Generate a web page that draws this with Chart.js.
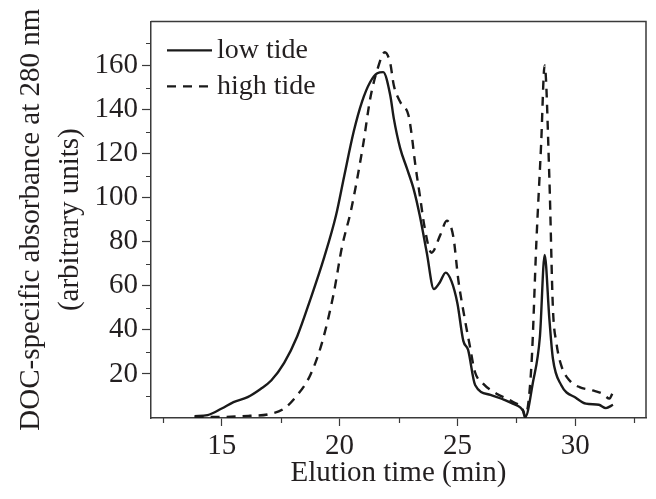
<!DOCTYPE html>
<html>
<head>
<meta charset="utf-8">
<script src="https://cdn.jsdelivr.net/npm/chart.js@4/dist/chart.umd.min.js"></script>
<style>
  html, body { margin: 0; padding: 0; background: #fff; }
  canvas { display: block; }
</style>
</head>
<body>
<canvas id="myChart" width="656" height="499"></canvas>
<script>
// elution time (min) and DOC-specific absorbance
const lowTideTime = [13.85, 14.4, 15.0, 15.5, 16.1, 16.65, 17.1, 17.65, 18.2, 18.75, 19.35, 19.85, 20.2, 20.6, 20.95,
    21.3, 21.6, 21.85, 22.15, 22.3, 22.57, 22.85, 23.14, 23.4, 23.7, 24.0, 24.25, 24.5, 24.75, 25.0, 25.25, 25.45,
    25.75, 26.4, 27.35, 27.8, 27.88, 28.2, 28.5, 28.7, 28.9, 29.05, 29.4, 30.05, 30.45, 31.0, 31.3, 31.6];
const lowTide = [0.8, 1.3, 4.3, 7.2, 9.5, 13.2, 17, 25, 37, 53.5, 73, 92, 110, 130, 143.5,
    152.5, 156.5, 157, 146.5, 136, 122.5, 113.5, 104, 92, 75, 58.5, 61.5, 66, 62, 52, 35, 31,
    15, 10.5, 6.5, 3, 0.5, 16, 37, 74, 45, 27, 15, 9, 6.5, 6, 4.5, 6];

const highTideTime = [13.85, 15.0, 16.2, 16.95, 17.65, 18.2, 18.75, 19.25, 19.75, 20.1, 20.5, 21.0, 21.3, 21.6, 21.92,
    22.15, 22.3, 22.57, 22.92, 23.06, 23.2, 23.42, 23.6, 23.9, 24.27, 24.55, 24.83, 25.04, 25.32, 25.53, 25.74,
    26.1, 26.66, 27.36, 27.78, 27.86, 28.14, 28.35, 28.55, 28.7, 28.9, 29.05, 29.2, 29.4, 29.76, 30.18, 30.74,
    31.16, 31.45, 31.59];
const highTide = [0.5, 0.5, 1, 1.6, 4.3, 10.3, 19.3, 34, 56.5, 77.5, 95, 124, 145, 158, 166,
    161, 151, 143.5, 137.5, 128.5, 116, 100, 87, 75, 83, 89.5, 82, 62.5, 44.5, 32.5, 21,
    15.5, 11, 7.3, 3.5, 0.5, 24, 80, 124, 160, 109, 50, 34, 24, 17, 14, 12.5,
    11, 8.8, 11.5];

const seriesLabels = ['low tide', 'high tide'];

const xTicks = [15, 20, 25, 30];
const xMinorTicks = [12.5, 17.5, 22.5, 27.5, 32.5];
const yTicks = [20, 40, 60, 80, 100, 120, 140, 160];
const yMinorTicks = [10, 30, 50, 70, 90, 110, 130, 150, 170];

const ink = '#231f20';
const frame = '#3a3a3a';
const serif = 'Liberation Serif';

function toPoints(xs, ys) {
    return xs.map((x, i) => ({ x: x, y: ys[i] }));
}

// top/right sides of the box and the short minor ticks
const framePlugin = {
    id: 'frameBox',
    afterDraw(chart) {
        const { ctx, chartArea: { left, top, right, bottom } } = chart;
        const xs = chart.scales.x, ys = chart.scales.y;
        ctx.save();
        ctx.strokeStyle = frame;
        ctx.lineWidth = 1.5;
        ctx.beginPath();
        ctx.moveTo(left, top);
        ctx.lineTo(right, top);
        ctx.lineTo(right, bottom);
        ctx.stroke();

        ctx.lineWidth = 1.2;
        ctx.beginPath();
        xMinorTicks.forEach(v => {
            const px = Math.round(xs.getPixelForValue(v)) + 0.5;
            ctx.moveTo(px, bottom);
            ctx.lineTo(px, bottom + 5);
        });
        yMinorTicks.forEach(v => {
            const py = Math.round(ys.getPixelForValue(v)) + 0.5;
            ctx.moveTo(left, py);
            ctx.lineTo(left - 5, py);
        });
        ctx.stroke();
        ctx.restore();
    }
};

// legend in the upper left corner of the plot
const legendPlugin = {
    id: 'cornerLegend',
    afterDraw(chart) {
        const { ctx, chartArea: { left, top } } = chart;
        ctx.save();
        ctx.font = '28px "' + serif + '"';
        ctx.fillStyle = ink;
        ctx.textBaseline = 'alphabetic';
        chart.data.datasets.forEach((ds, i) => {
            const y = top + 29 + i * 36;
            ctx.beginPath();
            ctx.setLineDash(ds.borderDash || []);
            ctx.strokeStyle = ds.borderColor;
            ctx.lineWidth = ds.borderWidth;
            ctx.moveTo(left + 16, y);
            ctx.lineTo(left + 61, y);
            ctx.stroke();
            ctx.setLineDash([]);
            ctx.fillText(ds.label, left + 66, y + 8);
        });
        ctx.restore();
    }
};

new Chart(document.getElementById('myChart'), {
    type: 'line',
    plugins: [framePlugin, legendPlugin],
    data: {
        datasets: [
            {
                label: seriesLabels[0],
                data: toPoints(lowTideTime, lowTide),
                borderColor: '#1a1a1a',
                borderWidth: 2.4,
                pointRadius: 0,
                cubicInterpolationMode: 'monotone',
                fill: false
            },
            {
                label: seriesLabels[1],
                data: toPoints(highTideTime, highTide),
                borderColor: '#1a1a1a',
                borderWidth: 2.4,
                borderDash: [9, 7],
                pointRadius: 0,
                cubicInterpolationMode: 'monotone',
                fill: false
            }
        ]
    },
    options: {
        responsive: false,
        animation: false,
        layout: { padding: { left: 0, right: 10, top: 16, bottom: 0 } },
        plugins: {
            legend: { display: false },
            tooltip: { enabled: false }
        },
        scales: {
            x: {
                type: 'linear',
                min: 12,
                max: 33,
                afterBuildTicks: scale => { scale.ticks = xTicks.map(v => ({ value: v })); },
                afterFit: scale => { scale.height = 81; },
                border: { display: true, color: frame, width: 1.5 },
                grid: { drawOnChartArea: false, drawTicks: true, tickLength: 8, tickColor: frame, tickWidth: 1.2 },
                ticks: { color: ink, padding: 3, maxRotation: 0, font: { family: serif, size: 29 } },
                title: {
                    display: true,
                    text: 'Elution time (min)',
                    color: ink,
                    font: { family: serif, size: 29, lineHeight: 1.2 },
                    padding: { top: 0, bottom: 8.6 }
                }
            },
            y: {
                type: 'linear',
                min: 0,
                max: 180,
                afterBuildTicks: scale => { scale.ticks = yTicks.map(v => ({ value: v })); },
                afterFit: scale => { scale.width = 151; },
                border: { display: true, color: frame, width: 1.5 },
                grid: { drawOnChartArea: false, drawTicks: true, tickLength: 9, tickColor: frame, tickWidth: 1.2 },
                ticks: { color: ink, padding: 4, font: { family: serif, size: 29 } },
                title: {
                    display: true,
                    text: ['DOC-specific absorbance at 280 nm', '(arbitrary units)'],
                    color: ink,
                    font: { family: serif, size: 29, lineHeight: 1.32 },
                    padding: { top: 12.7, bottom: 0 }
                }
            }
        }
    }
});
</script>
</body>
</html>
